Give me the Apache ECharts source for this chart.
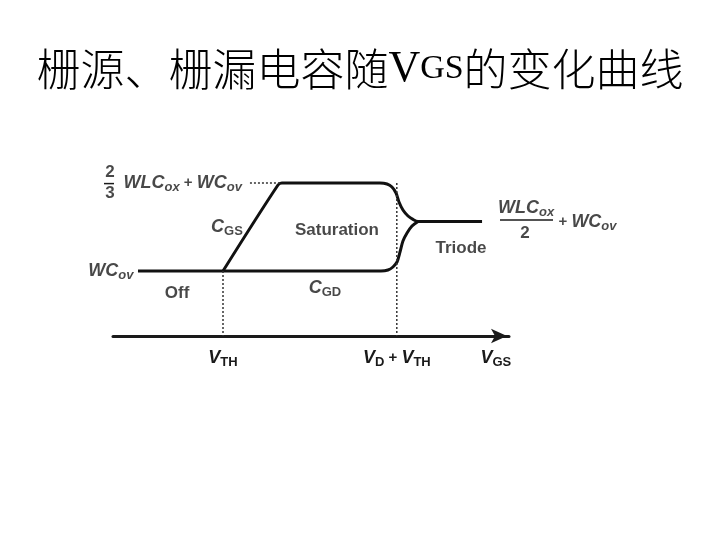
<!DOCTYPE html>
<html>
<head>
<meta charset="utf-8">
<script src="https://cdn.jsdelivr.net/npm/echarts@6/dist/echarts.min.js"></script>
<style>
  html, body { margin: 0; padding: 0; background: #fff; }
  #main { width: 720px; height: 540px; }
</style>
</head>
<body>
<div id="main"></div>
<script>
// VGS 轴上的位置（任意单位）
const vgsMarks = [10, 25.8, 34.8];
const vgsLabels = ['{i|V}{s|TH}', '{i|V}{s|D}{p| + }{i|V}{s|TH}', '{i|V}{s|GS}'];

// CGS 曲线（Off 之后上升，饱和区平台，三极管区回落）
const cgsCurve = [
  [10, 3.25], [15.0, 7.55], [15.36, 7.65], [15.91, 7.65], [24.27, 7.65],
  [24.91, 7.6], [25.36, 7.45], [25.73, 7.15], [26.0, 6.7], [26.36, 6.3],
  [26.82, 6.0], [27.27, 5.83], [27.73, 5.73], [33.55, 5.73]
];
// CGD 曲线（含 Off 段）
const cgdCurve = [
  [2.27, 3.25], [24.36, 3.25], [25.0, 3.3], [25.45, 3.45], [25.82, 3.7],
  [26.09, 4.2], [26.36, 4.75], [26.73, 5.15], [27.18, 5.5], [27.73, 5.73]
];

// 虚线辅助线
const guideLines = [
  [[10, 3.25], [10, 0]],
  [[25.8, 7.65], [25.8, 0]],
  [[12.45, 7.65], [15.2, 7.65]]
];

const rich = {
  i: { fontStyle: 'italic', fontWeight: 'bold', fontSize: 18, fontFamily: 'Liberation Sans', color: '#1a1a1a', lineHeight: 22, verticalAlign: 'middle' },
  b: { fontWeight: 'bold', fontSize: 17, fontFamily: 'Liberation Sans', color: '#1a1a1a', lineHeight: 22, verticalAlign: 'middle' },
  s: { fontWeight: 'bold', fontSize: 13, fontFamily: 'Liberation Sans', color: '#1a1a1a', lineHeight: 11, verticalAlign: 'bottom' },
  si: { fontStyle: 'italic', fontWeight: 'bold', fontSize: 13, fontFamily: 'Liberation Sans', color: '#1a1a1a', lineHeight: 11, verticalAlign: 'bottom' },
  p: { fontWeight: 'bold', fontSize: 15, fontFamily: 'Liberation Sans', color: '#1a1a1a', lineHeight: 22, verticalAlign: 'middle' }
};

// 文字标注
const notes = [
  { text: '{b|Saturation}', at: [20.36, 5.3], pos: 'inside' },
  { text: '{b|Off}', at: [5.82, 2.15], pos: 'inside' },
  { text: '{b|Triode}', at: [31.64, 4.4], pos: 'inside' },
  { text: '{i|C}{s|GS}', at: [10.36, 5.45], pos: 'inside' },
  { text: '{i|C}{s|GD}', at: [19.27, 2.4], pos: 'inside' },
  { text: '{i|WC}{si|ov}', at: [1.91, 3.25], pos: 'left' },
  { text: '{b|2}', at: [-0.27, 8.2], pos: 'inside' },
  { text: '{b|3}', at: [-0.27, 7.12], pos: 'inside' },
  { text: '{i|WLC}{si|ox}{p| + }{i|WC}{si|ov}', at: [0.91, 7.65], pos: 'right' },
  { text: '{i|WLC}{si|ox}', at: [37.55, 6.38], pos: 'inside' },
  { text: '{b|2}', at: [37.45, 5.15], pos: 'inside' },
  { text: '{p|+ }{i|WC}{si|ov}', at: [40.45, 5.7], pos: 'right' }
];
// 分数线 [x1, y1, x2, y2]
const fractionBars = [
  [-0.82, 7.62, 0.09, 7.62],
  [35.18, 5.8, 40.0, 5.8]
];

const myChart = echarts.init(document.getElementById('main'));

const series = [
  {
    name: 'CGS', type: 'line', data: cgsCurve, smooth: 0.3, symbol: 'none',
    lineStyle: { color: '#111', width: 3 }
  },
  {
    name: 'CGD', type: 'line', data: cgdCurve, smooth: 0.3, symbol: 'none',
    lineStyle: { color: '#111', width: 3 }
  }
];
guideLines.forEach(function (seg) {
  series.push({
    type: 'line', data: seg, symbol: 'none', silent: true,
    lineStyle: { color: '#333', width: 1.5, type: [2, 2] }
  });
});
series.push({
  type: 'custom', clip: false, silent: true,
  data: fractionBars,
  renderItem: function (params, api) {
    const p1 = api.coord([api.value(0), api.value(1)]);
    const p2 = api.coord([api.value(2), api.value(3)]);
    return {
      type: 'line',
      shape: { x1: p1[0], y1: p1[1], x2: p2[0], y2: p2[1] },
      style: { stroke: '#1a1a1a', lineWidth: 1.5 }
    };
  }
});
series.push({
  type: 'scatter', symbolSize: 1, clip: false, silent: true,
  itemStyle: { color: 'rgba(0,0,0,0)' },
  data: notes.map(function (n) {
    return {
      value: n.at,
      label: { show: true, position: n.pos, distance: 0, formatter: n.text, rich: rich }
    };
  })
});

const option = {
  backgroundColor: '#fff',
  animation: false,
  title: {
    text: '栅源、栅漏电容随{v|V}{g|GS}的变化曲线',
    left: 'center',
    top: 42,
    textStyle: {
      fontSize: 44,
      fontWeight: 300,
      fontFamily: 'Noto Sans CJK SC',
      color: '#000',
      rich: {
        v: { fontSize: 44, fontFamily: 'Liberation Serif', color: '#000' },
        g: { fontSize: 34, fontFamily: 'Liberation Serif', color: '#000' }
      }
    }
  },
  grid: { left: 113, right: 211, top: 136, bottom: 204 },
  xAxis: {
    type: 'value', min: 0, max: 36,
    splitLine: { show: false },
    axisTick: { show: false },
    axisLine: {
      show: true, onZero: false,
      symbol: ['none', 'arrow'], symbolSize: [11, 16], symbolOffset: [0, -2],
      lineStyle: { color: '#1a1a1a', width: 3 }
    },
    axisLabel: {
      show: true,
      customValues: vgsMarks,
      margin: 11,
      showMinLabel: true,
      showMaxLabel: true,
      formatter: function (v) {
        return vgsLabels[vgsMarks.indexOf(v)];
      },
      rich: rich
    }
  },
  yAxis: {
    type: 'value', min: 0, max: 10, show: false,
    splitLine: { show: false }
  },
  series: series
};

myChart.setOption(option);
</script>
</body>
</html>
